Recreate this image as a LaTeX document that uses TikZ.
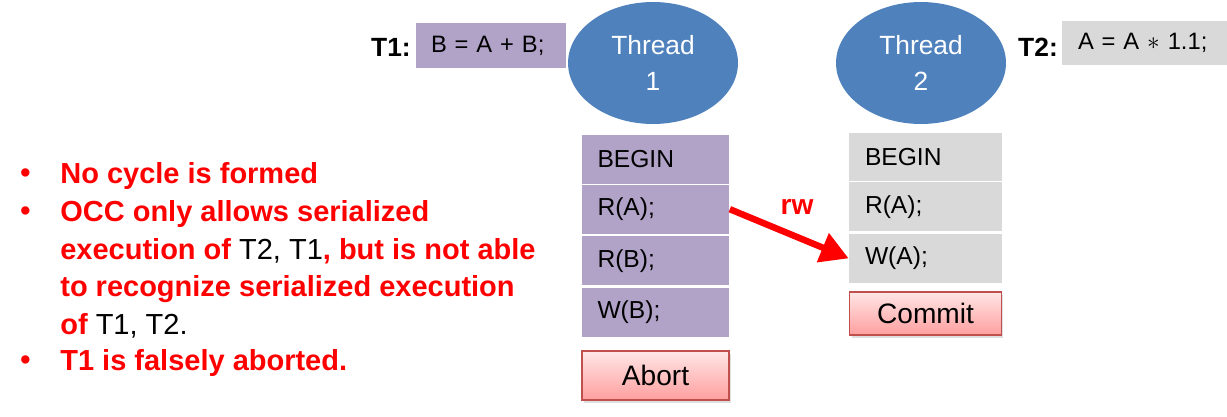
\documentclass[tikz,border=0pt]{standalone}
\usepackage{fontspec}
\setmainfont{Liberation Sans}
\usetikzlibrary{positioning,shapes.geometric,arrows.meta,shadows}
\definecolor{opurple}{HTML}{B1A2C8}
\definecolor{ogray}{HTML}{D9D9D9}
\definecolor{tblue}{HTML}{4F81BD}
\definecolor{btnred}{HTML}{C0504D}
\definecolor{btntop}{HTML}{FFE6E6}
\definecolor{btnbot}{HTML}{FF9E9E}
\def\big{\fontsize{16.5}{20}\selectfont}
\def\blk#1{{\color{black}\mdseries #1}}
\tikzset{
  opbox/.style={rectangle, fill=opurple, minimum width=2.96cm, minimum height=0.98cm,
    text width=2.32cm, inner xsep=0.32cm, inner ysep=0pt, align=left,
    font=\fontsize{14}{16}\selectfont},
  opboxg/.style={opbox, fill=ogray, minimum width=3.06cm, text width=2.42cm},
  codebox/.style={opbox, minimum width=3cm, minimum height=0.9cm, text width=2.4cm,
    inner xsep=0.3cm, font=\fontsize{13.5}{16}\selectfont},
  btn/.style={rectangle, top color=btntop, bottom color=btnbot, draw=btnred, line width=1pt,
    minimum width=2.94cm, minimum height=0.98cm, font=\fontsize{16}{18}\selectfont,
    drop shadow={shadow xshift=0.04cm, shadow yshift=-0.05cm, opacity=0.25}},
  thread/.style={ellipse, fill=tblue, text=white, minimum width=3.4cm, minimum height=2.44cm,
    align=center, font=\fontsize{15}{20}\selectfont},
  tlbl/.style={font=\fontsize{15}{18}\selectfont\bfseries},
  note/.style={anchor=west, text=red, inner sep=0pt, font=\big\bfseries}
}
\begin{document}
\begin{tikzpicture}[x=0.02cm, y=-0.02cm]
\useasboundingbox (0,0) rectangle (1227,416);
% threads and their code
\node[thread] (th1) at (653,63) {Thread\\1};
\node[thread] (th2) at (921,63) {Thread\\2};
\node[tlbl] (t1) at (391,47) {T1:};
\node[codebox] (t1c) at (491,45.5) {B = A + B;};
\node[tlbl] (t2) at (1038,47) {T2:};
\node[codebox, fill=ogray, minimum width=3.3cm, text width=2.66cm, inner xsep=0.32cm] (t2c) at (1144.5,43) {A = A $\ast$ 1.1;};
% T1 operations
\node[opbox] (bg1) at (655.5,159.5) {BEGIN};
\node[opbox, below=0pt of bg1] (ra1) {R(A);};
\node[opbox, below=0.04cm of ra1] (rb1) {R(B);};
\node[opbox, below=0.04cm of rb1] (wb1) {W(B);};
\node[btn, below=0.26cm of wb1] (abort) {Abort};
% T2 operations
\node[opboxg] (bg2) at (925.5,157) {BEGIN};
\node[opboxg, below=0pt of bg2] (ra2) {R(A);};
\node[opboxg, below=0.04cm of ra2] (wa2) {W(A);};
\node[btn, minimum width=3.04cm, minimum height=0.86cm, below=0.16cm of wa2] (commit) {Commit};
% dependency
\draw[red, line width=0.13cm, -{Triangle[length=0.56cm, width=0.6cm]}] (ra1.east) -- (wa2.west);
\node[text=red, font=\fontsize{16}{18}\selectfont\bfseries] (rw) at (797,207) {rw};
% notes
\foreach \y/\nm in {176/b1, 214/b2, 363/b3}
  \node[note] (\nm) at (20,\y) {\textbullet};
\node[note] (l1) at (60,176) {No cycle is formed};
\node[note] (l2) at (60,214) {OCC only allows serialized};
\node[note] (l3) at (60,251) {execution of \blk{T2,} \blk{T1}, but is not able};
\node[note] (l4) at (60,289) {to recognize serialized execution};
\node[note] (l5) at (60,326) {of \blk{T1, T2.}};
\node[note] (l6) at (60,363) {T1 is falsely aborted.};
\end{tikzpicture}
\end{document}
